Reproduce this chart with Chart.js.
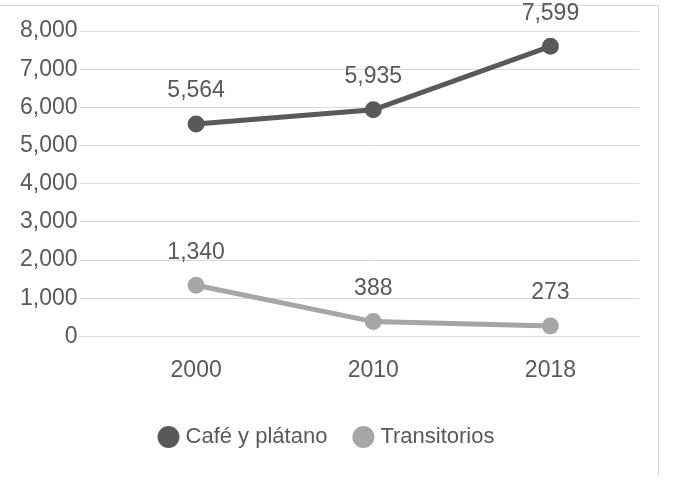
<!DOCTYPE html>
<html>
<head>
<meta charset="utf-8">
<script src="https://cdn.jsdelivr.net/npm/chart.js@4"></script>
<style>
  html, body { margin: 0; padding: 0; background: #fff; }
  #wrap { position: relative; width: 681px; height: 480px; overflow: hidden; }
  #frame { position: absolute; left: -2px; top: 5px; width: 660px; height: 470px;
           border-top: 1px solid #d9d9d9; border-right: 1px solid #d9d9d9; }
  canvas { position: absolute; left: 0; top: 0; }
</style>
</head>
<body>
<div id="wrap">
  <div id="frame"></div>
  <canvas id="chart" width="681" height="480"></canvas>
</div>
<script>
const years = ['2000', '2010', '2018'];
const cafePlatano = [5564, 5935, 7599];
const transitorios = [1340, 388, 273];
const yTicks = [0, 1000, 2000, 3000, 4000, 5000, 6000, 7000, 8000];

const TEXT = '#595959';
const FONT = '"Liberation Sans", Arial, sans-serif';
const fmt = v => v.toLocaleString('en-US');

const dataLabels = {
    id: 'dataLabels',
    afterDatasetsDraw(chart) {
        const ctx = chart.ctx;
        ctx.save();
        ctx.font = '23px ' + FONT;
        ctx.fillStyle = TEXT;
        ctx.textAlign = 'center';
        ctx.textBaseline = 'middle';
        chart.data.datasets.forEach((ds, i) => {
            chart.getDatasetMeta(i).data.forEach((pt, j) => {
                ctx.fillText(fmt(ds.data[j]), pt.x, pt.y - 33);
            });
        });
        ctx.restore();
    }
};

new Chart(document.getElementById('chart'), {
    type: 'line',
    data: {
        labels: years,
        datasets: [
            {
                label: 'Café y plátano',
                data: cafePlatano,
                borderColor: '#595959',
                backgroundColor: '#595959',
                borderWidth: 5,
                pointRadius: 6,
                tension: 0
            },
            {
                label: 'Transitorios',
                data: transitorios,
                borderColor: '#a6a6a6',
                backgroundColor: '#a6a6a6',
                borderWidth: 5,
                pointRadius: 6,
                tension: 0
            }
        ]
    },
    options: {
        responsive: false,
        animation: false,
        layout: { padding: { top: 31, right: 42, left: 18, bottom: 22 } },
        plugins: {
            legend: {
                position: 'bottom',
                labels: {
                    usePointStyle: true,
                    pointStyle: 'circle',
                    boxWidth: 12,
                    boxHeight: 12,
                    padding: 30,
                    color: TEXT,
                    font: { size: 22, family: FONT }
                }
            },
            tooltip: { enabled: false }
        },
        scales: {
            x: {
                offset: true,
                grid: { display: false },
                border: { color: '#d9d9d9' },
                ticks: {
                    color: TEXT,
                    padding: 12,
                    font: { size: 23, family: FONT }
                }
            },
            y: {
                min: 0,
                max: 8000,
                afterBuildTicks: axis => { axis.ticks = yTicks.map(v => ({ value: v })); },
                border: { display: false },
                grid: { color: '#d9d9d9', tickLength: 28, tickColor: '#d9d9d9' },
                ticks: {
                    color: TEXT,
                    padding: 2,
                    callback: v => fmt(v),
                    font: { size: 23, family: FONT }
                }
            }
        }
    },
    plugins: [dataLabels]
});
</script>
</body>
</html>
